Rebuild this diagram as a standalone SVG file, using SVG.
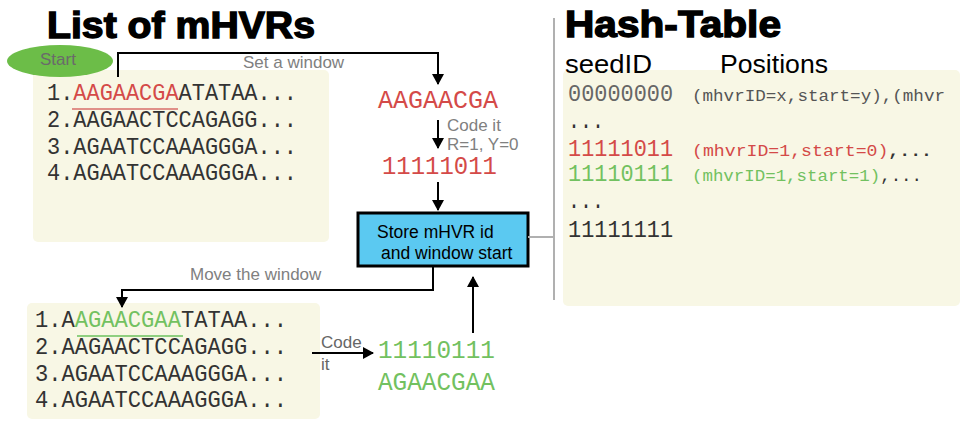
<svg xmlns="http://www.w3.org/2000/svg" width="960" height="421" viewBox="0 0 960 421">
<style>
.title{font-family:"Liberation Sans",Arial,sans-serif;font-weight:900;font-size:37px;fill:#000;stroke:#000;stroke-width:1.4px}
.lbl{font-family:"Liberation Sans",Arial,sans-serif;font-size:17px;fill:#808080}
.mono{font-family:"Liberation Mono","Courier New",monospace;font-size:24px;fill:#333}
.big{font-family:"Liberation Mono","Courier New",monospace;font-size:26px}
.pos{font-family:"Liberation Mono","Courier New",monospace;font-size:16.5px}
.head{font-family:"Liberation Sans",Arial,sans-serif;font-size:26px;fill:#000}
.red{fill:#d44a48}
.grn{fill:#72c160}
.panel{fill:#f8f7e5}
.conn{fill:none;stroke:#000;stroke-width:2}
.gline{fill:none;stroke:#b0b0b0;stroke-width:2}
</style>
<defs>
<marker id="ah" markerWidth="12" markerHeight="12" refX="10" refY="6" orient="auto" markerUnits="userSpaceOnUse">
<path d="M0,0 L11,6 L0,12 Z" fill="#000"/>
</marker>
</defs>

<g id="titles">
<text class="title" x="47" y="38" textLength="268" lengthAdjust="spacingAndGlyphs">List of mHVRs</text>
<text class="title" x="565" y="37" textLength="216" lengthAdjust="spacingAndGlyphs">Hash-Table</text>
</g>

<g id="list-top">
<rect class="panel" x="33" y="70" width="296" height="172" rx="5"/>
<text class="mono" x="47" y="100" textLength="250" lengthAdjust="spacingAndGlyphs">1.<tspan class="red">AAGAACGA</tspan>ATATAA...</text>
<line x1="72" y1="109" x2="178" y2="109" stroke="#e09088" stroke-width="2"/>
<text class="mono" x="47" y="127" textLength="250" lengthAdjust="spacingAndGlyphs">2.AAGAACTCCAGAGG...</text>
<text class="mono" x="47" y="154" textLength="250" lengthAdjust="spacingAndGlyphs">3.AGAATCCAAAGGGA...</text>
<text class="mono" x="47" y="180" textLength="250" lengthAdjust="spacingAndGlyphs">4.AGAATCCAAAGGGA...</text>
</g>

<g id="start">
<ellipse cx="60" cy="61" rx="53" ry="16" fill="#6cbd48"/>
<text x="40" y="65" font-family="Liberation Sans, Arial, sans-serif" font-size="17" fill="#6a6a6a">Start</text>
</g>

<g id="window-seq">
<text class="big red" x="378" y="108" textLength="120" lengthAdjust="spacingAndGlyphs">AAGAACGA</text>
</g>

<g id="code-label">
<text class="lbl" x="447" y="131" font-size="16">Code it</text>
<text class="lbl" x="447" y="150" font-size="16">R=1, Y=0</text>
</g>

<g id="seed-red">
<text class="big red" x="382" y="174" textLength="115" lengthAdjust="spacingAndGlyphs">11111011</text>
</g>

<g id="store">
<rect x="358" y="213" width="170" height="53" fill="#5bc9f1" stroke="#000" stroke-width="3"/>
<text x="377" y="238" font-family="Liberation Sans, Arial, sans-serif" font-size="17.5" fill="#000">Store mHVR id</text>
<text x="381" y="259" font-family="Liberation Sans, Arial, sans-serif" font-size="17.5" fill="#000">and window start</text>
</g>

<g id="list-bottom">
<rect class="panel" x="27" y="303" width="293" height="116" rx="5"/>
<text class="mono" x="35" y="327" textLength="252" lengthAdjust="spacingAndGlyphs">1.A<tspan class="grn">AGAACGAA</tspan>TATAA...</text>
<line x1="77" y1="336" x2="183" y2="336" stroke="#8fcf80" stroke-width="2"/>
<text class="mono" x="35" y="354" textLength="252" lengthAdjust="spacingAndGlyphs">2.AAGAACTCCAGAGG...</text>
<text class="mono" x="35" y="381" textLength="252" lengthAdjust="spacingAndGlyphs">3.AGAATCCAAAGGGA...</text>
<text class="mono" x="35" y="407" textLength="252" lengthAdjust="spacingAndGlyphs">4.AGAATCCAAAGGGA...</text>
</g>

<g id="seed-green">
<text class="big grn" x="378" y="358" textLength="117" lengthAdjust="spacingAndGlyphs">11110111</text>
<text class="big grn" x="378" y="390" textLength="117" lengthAdjust="spacingAndGlyphs">AGAACGAA</text>
</g>

<g id="hash-table">
<rect class="panel" x="563" y="70" width="397" height="236" rx="5"/>
<text class="head" x="565" y="73" textLength="87" lengthAdjust="spacingAndGlyphs">seedID</text>
<text class="head" x="720" y="73" textLength="108" lengthAdjust="spacingAndGlyphs">Positions</text>
<text class="mono" x="568" y="101" style="fill:#666" textLength="105" lengthAdjust="spacingAndGlyphs">00000000</text>
<text class="pos" x="692" y="101" fill="#555" textLength="253" lengthAdjust="spacingAndGlyphs">(mhvrID=x,start=y),(mhvr</text>
<text class="mono" x="568" y="128" textLength="36" lengthAdjust="spacingAndGlyphs">...</text>
<text class="mono red" x="568" y="156" textLength="105" lengthAdjust="spacingAndGlyphs">11111011</text>
<text class="pos red" x="692" y="156" textLength="240" lengthAdjust="spacingAndGlyphs">(mhvrID=1,start=0)<tspan fill="#333" font-weight="bold">,...</tspan></text>
<text class="mono grn" x="568" y="181" textLength="105" lengthAdjust="spacingAndGlyphs">11110111</text>
<text class="pos grn" x="692" y="181" textLength="230" lengthAdjust="spacingAndGlyphs">(mhvrID=1,start=1)<tspan fill="#333">,...</tspan></text>
<text class="mono" x="568" y="208" textLength="36" lengthAdjust="spacingAndGlyphs">...</text>
<text class="mono" x="568" y="237" textLength="105" lengthAdjust="spacingAndGlyphs">11111111</text>
</g>

<g id="connectors">
<path class="conn" d="M118,77 V53 H438 V84" marker-end="url(#ah)"/>
<path class="conn" d="M438,120 V148" marker-end="url(#ah)"/>
<path class="conn" d="M438,182 V210" marker-end="url(#ah)"/>
<path class="conn" d="M433,267 V290 H122 V307" marker-end="url(#ah)"/>
<path class="conn" d="M312,353 H373" marker-end="url(#ah)"/>
<path class="conn" d="M473,333 V277" marker-end="url(#ah)"/>
<path class="gline" d="M554,18 V300"/>
<path class="gline" d="M528,237 H554"/>
<text class="lbl" x="243" y="68">Set a window</text>
<text class="lbl" x="190" y="280">Move the window</text>
<text class="lbl" x="321" y="348" style="fill:#666">Code</text>
<text class="lbl" x="321" y="370" style="fill:#666">it</text>
</g>
</svg>
